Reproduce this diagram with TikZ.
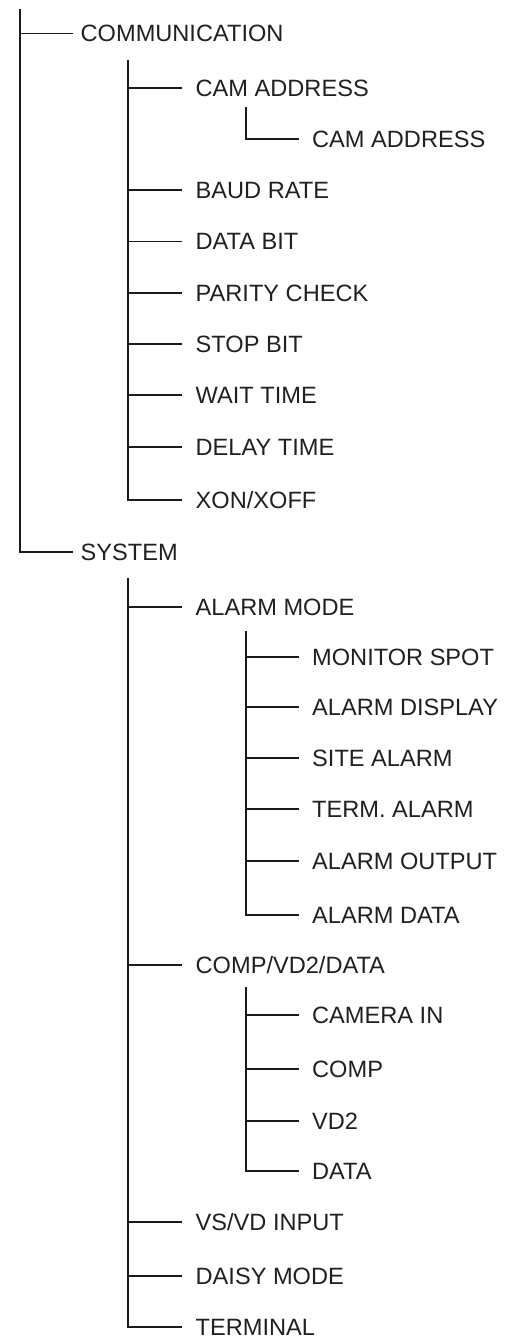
\documentclass[tikz,border=0pt]{standalone}
\usepackage{fontspec}
\setmainfont{Liberation Sans}
\definecolor{txt}{HTML}{231F20}
\definecolor{ln}{HTML}{1A1A1A}
\begin{document}
\begin{tikzpicture}[x=1pt,y=-1pt,
  lbl/.style={anchor=west,inner sep=0pt,text height=16.7pt,text depth=0pt,
    font=\fontsize{23.6}{28}\selectfont,text=txt},
  tree/.style={line width=1.05pt,draw=ln}]
\useasboundingbox (0,0) rectangle (511,1338);
% level 0
\node[lbl] (comm) at (80.5,33.5) {COMMUNICATION};
\node[lbl] (sys) at (80.5,552) {SYSTEM};
% communication children
\node[lbl] (cam) at (195.5,88) {CAM ADDRESS};
\node[lbl] (camsub) at (312,139) {CAM ADDRESS};
\node[lbl] (baud) at (195.5,190) {BAUD RATE};
\node[lbl] (databit) at (195.5,241.5) {DATA BIT};
\node[lbl] (parity) at (195.5,293) {PARITY CHECK};
\node[lbl] (stop) at (195.5,344) {STOP BIT};
\node[lbl] (wait) at (195.5,395) {WAIT TIME};
\node[lbl] (delay) at (195.5,447) {DELAY TIME};
\node[lbl] (xon) at (195.5,500) {XON/XOFF};
% system children
\node[lbl] (alarm) at (195.5,607) {ALARM MODE};
\node[lbl] (mon) at (312,657) {MONITOR SPOT};
\node[lbl] (adisp) at (312,707) {ALARM DISPLAY};
\node[lbl] (site) at (312,758) {SITE ALARM};
\node[lbl] (term) at (312,809) {TERM. ALARM};
\node[lbl] (aout) at (312,861) {ALARM OUTPUT};
\node[lbl] (adata) at (312,915) {ALARM DATA};
\node[lbl] (comp) at (195.5,965) {COMP/VD2/DATA};
\node[lbl] (camin) at (312,1015) {CAMERA IN};
\node[lbl] (compc) at (312,1069) {COMP};
\node[lbl] (vd2) at (312,1121) {VD2};
\node[lbl] (data) at (312,1171) {DATA};
\node[lbl] (vsvd) at (195.5,1222) {VS/VD INPUT};
\node[lbl] (daisy) at (195.5,1276) {DAISY MODE};
\node[lbl] (terminal) at (195.5,1327) {TERMINAL};
% trunk tops
\coordinate (t0) at (20,9);
\coordinate (t1) at (128,60);
\coordinate (t2) at (246,107);
\coordinate (t3) at (128,578);
\coordinate (t4) at (246,631);
\coordinate (t5) at (246,987);
% level 0 connectors
\draw[tree] (t0) |- ([xshift=-8pt]sys.west);
\draw[tree] (t0 |- comm.west) -- ([xshift=-8pt]comm.west);
% communication
\draw[tree] (t1) |- ([xshift=-13.5pt]xon.west);
\foreach \n in {cam,baud,databit,parity,stop,wait,delay}
  \draw[tree] (t1 |- \n.west) -- ([xshift=-13.5pt]\n.west);
\draw[tree] (t2) |- ([xshift=-13pt]camsub.west);
% system
\draw[tree] (t3) |- ([xshift=-13.5pt]terminal.west);
\foreach \n in {alarm,comp,vsvd,daisy}
  \draw[tree] (t3 |- \n.west) -- ([xshift=-13.5pt]\n.west);
\draw[tree] (t4) |- ([xshift=-13pt]adata.west);
\foreach \n in {mon,adisp,site,term,aout}
  \draw[tree] (t4 |- \n.west) -- ([xshift=-13pt]\n.west);
\draw[tree] (t5) |- ([xshift=-13pt]data.west);
\foreach \n in {camin,compc,vd2}
  \draw[tree] (t5 |- \n.west) -- ([xshift=-13pt]\n.west);
\end{tikzpicture}
\end{document}
